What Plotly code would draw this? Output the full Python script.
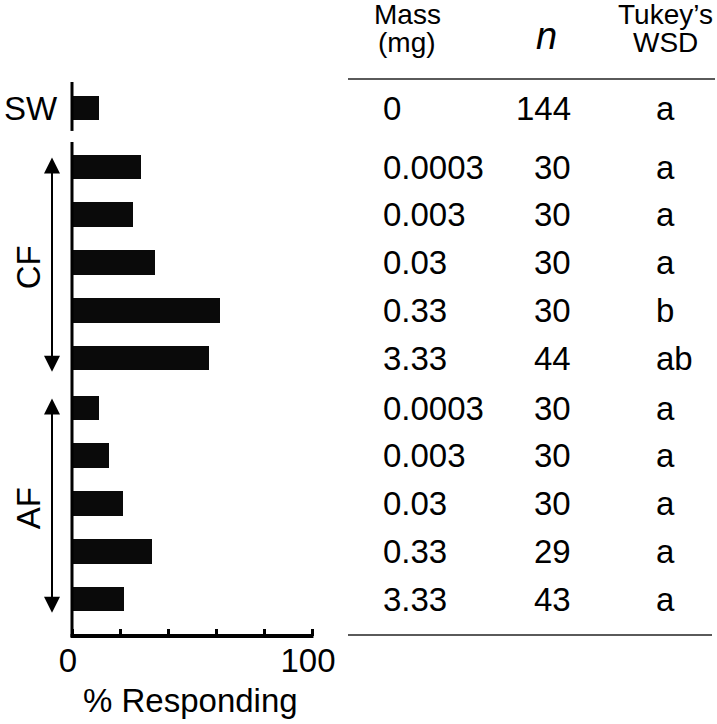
import plotly.graph_objects as go

# ---------------- data ----------------
groups = ["SW", "CF", "AF"]
sw_values = [11.4]
cf_values = [28.8, 25.4, 34.4, 61.5, 57.1]
af_values = [11.3, 15.3, 21.4, 33.2, 21.8]

sw_mass = ["0"]
cf_mass = ["0.0003", "0.003", "0.03", "0.33", "3.33"]
af_mass = ["0.0003", "0.003", "0.03", "0.33", "3.33"]

sw_n = ["144"]
cf_n = ["30", "30", "30", "30", "44"]
af_n = ["30", "30", "30", "29", "43"]

sw_tukey = ["a"]
cf_tukey = ["a", "a", "a", "b", "ab"]
af_tukey = ["a", "a", "a", "a", "a"]

x_tickvals = [0, 20, 40, 60, 80, 100]
x_ticktext = ["0", "", "", "", "", "100"]
x_title = "% Responding"
header_mass = ["Mass", "(mg)"]
header_n = "n"
header_tukey = ["Tukey\u2019s", "WSD"]

# ---------------- layout constants ----------------
W, H = 717, 724
FONT = "Liberation Sans, Arial, Helvetica, sans-serif"
BIG = 33
HEAD = 28
SLOT_PX = 47.75          # pixel distance between neighbouring bars
ZERO_PX = 72             # pixel x of value 0
PX_PER_UNIT = 2.4        # pixels per % unit
FIRST_PX = 108           # pixel y of the first bar (SW)
GAP_SW_CF = 1.236        # slot offsets between groups
GAP_CF_AF = 1.047
BAR_W = 0.52

# positions of bars in slot units
sw_pos = [0.0]
cf_pos = [sw_pos[-1] + GAP_SW_CF + i for i in range(len(cf_values))]
af_pos = [cf_pos[-1] + GAP_CF_AF + i for i in range(len(af_values))]

def py(p):
    """pixel y (from top) -> slot units"""
    return (p - FIRST_PX) / SLOT_PX

def pxv(p):
    """pixel x -> value units"""
    return (p - ZERO_PX) / PX_PER_UNIT

def fx(p):
    return p / W

def fy(p):
    return 1 - p / H

axis_bottom = py(636)

fig = go.Figure()
fig.add_trace(go.Bar(
    orientation="h",
    x=sw_values + cf_values + af_values,
    y=sw_pos + cf_pos + af_pos,
    width=BAR_W,
    marker=dict(color="#0a0a0a", line=dict(width=0)),
    hoverinfo="x",
    showlegend=False,
))

shapes = []
# y-axis segments
shapes.append(dict(type="line", xref="x", yref="y", x0=0, x1=0,
                   y0=sw_pos[0] - 0.545, y1=sw_pos[0] + 0.48,
                   line=dict(color="black", width=3)))
shapes.append(dict(type="line", xref="x", yref="y", x0=0, x1=0,
                   y0=cf_pos[0] - 0.525, y1=axis_bottom + 0.02,
                   line=dict(color="black", width=3)))
# x-axis line
shapes.append(dict(type="line", xref="x", yref="y", x0=-0.6, x1=100.6,
                   y0=axis_bottom, y1=axis_bottom,
                   line=dict(color="black", width=4)))
# table rules
shapes.append(dict(type="line", xref="paper", yref="paper", x0=fx(348), x1=fx(715),
                   y0=fy(79), y1=fy(79), line=dict(color="#5a5a5a", width=2)))
shapes.append(dict(type="line", xref="paper", yref="paper", x0=fx(348), x1=fx(712),
                   y0=fy(635), y1=fy(635), line=dict(color="#5a5a5a", width=2)))

ann = []
def txt(text, x, y, size=BIG, xanchor="center", xref="paper", yref="paper", **kw):
    ann.append(dict(text=text, x=x, y=y, xref=xref, yref=yref, showarrow=False,
                    xanchor=xanchor, yanchor="middle",
                    font=dict(family=FONT, size=size, color="black"), **kw))

# group labels
txt(groups[0], fx(31), sw_pos[0], xref="paper", yref="y")
txt(groups[1], fx(28), (cf_pos[0] + cf_pos[-1]) / 2 + 0.1, yref="y", textangle=-90)
txt(groups[2], fx(28), (af_pos[0] + af_pos[-1]) / 2 + 0.1, yref="y", textangle=-90)

# double arrows
for pos in (cf_pos, af_pos):
    ann.append(dict(text="", xref="x", yref="y", axref="x", ayref="y",
                    x=pxv(52), y=pos[-1] + 0.29, ax=pxv(52), ay=pos[0] - 0.23,
                    showarrow=True, arrowside="end+start",
                    arrowhead=2, startarrowhead=2, arrowsize=1.6, startarrowsize=1.6,
                    arrowwidth=2, arrowcolor="black", standoff=0, startstandoff=0))

# x-axis title
txt(x_title, fx(190), fy(700))

# table header
txt(header_mass[0], fx(407), fy(15), size=HEAD)
txt(header_mass[1], fx(407), fy(43), size=HEAD)
txt("<i>" + header_n + "</i>", fx(546), fy(36), size=38)
txt(header_tukey[0], fx(665), fy(15), size=HEAD)
txt(header_tukey[1], fx(665), fy(43), size=HEAD)

# table rows
for pos, mass, n, tk in ((sw_pos, sw_mass, sw_n, sw_tukey),
                         (cf_pos, cf_mass, cf_n, cf_tukey),
                         (af_pos, af_mass, af_n, af_tukey)):
    for p, m, nn, t in zip(pos, mass, n, tk):
        txt(m, fx(381), p, xanchor="left", yref="y")
        txt(nn, fx(573), p, xanchor="right", yref="y")
        txt(t, fx(654), p, xanchor="left", yref="y")

fig.update_layout(
    width=W, height=H,
    margin=dict(l=0, r=0, t=0, b=0),
    paper_bgcolor="white", plot_bgcolor="white",
    showlegend=False,
    bargap=0,
    xaxis=dict(domain=[0, 1], range=[pxv(0), pxv(W)], showgrid=False, zeroline=False,
               showline=False, tickmode="array", tickvals=x_tickvals, ticktext=x_ticktext,
               ticks="inside", ticklen=7, tickwidth=2.5, tickcolor="black",
               tickfont=dict(family=FONT, size=BIG, color="black"),
               ticklabelshift=-4, ticklabelstandoff=2,
               anchor="free", position=fy(636), fixedrange=True),
    yaxis=dict(domain=[0, 1], range=[py(H), py(0)], visible=False, fixedrange=True),
    shapes=shapes,
    annotations=ann,
)

fig.write_html("out.html", config={"displayModeBar": False},
               post_script="document.body.style.margin='0';document.body.style.overflow='hidden';")
